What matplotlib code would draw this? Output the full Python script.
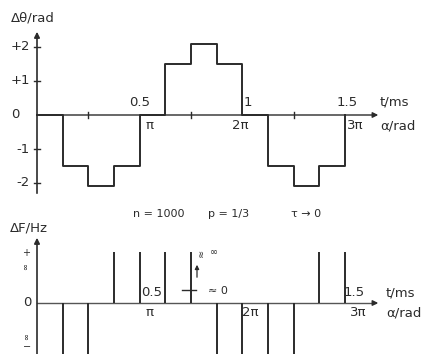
"""Phase deviation and frequency deviation of a stepped phase signal (n=1000, p=1/3, tau->0)."""

import matplotlib.pyplot as plt
import numpy as np

W, H = 432, 354
PX_PER_PI = 102.7        # horizontal pixels per pi rad
X0_PX = 37               # pixel column of the ordinate

# phase steps, x in units of pi
step_edges = [0, 0.25, 0.5, 0.75, 1.0, 1.25, 1.5, 1.75, 2.0, 2.25, 2.5, 2.75, 3.0]
phase_levels = [0, -1.5, -2.1, -1.5, 0, 1.5, 2.1, 1.5, 0, -1.5, -2.1, -1.5, 0]

# frequency impulses (derivative of the phase steps)
impulse_pos = [0.25, 0.5, 0.75, 1.0, 1.25, 1.5, 1.75, 2.0, 2.25, 2.5, 2.75, 3.0]
impulse_sign = [-1, -1, 1, 1, 1, 1, -1, -1, -1, -1, 1, 1]

phase_ticks = [-2, -1, 1, 2]
phase_ticklabels = ["-2", "-1", "+1", "+2"]
x_minor = [0.5, 1.5, 2.5]

INK = "#2b2b2b"
FS = 9.5


def px(x, y):
    return x / W, 1 - y / H


def xdata(xp):
    return (xp - X0_PX) / PX_PER_PI


fig = plt.figure(figsize=(W / 100, H / 100), dpi=100)
fig.patch.set_facecolor("white")

xlim = (xdata(0), xdata(W))

# ---- top panel: delta theta ----
top_h = 200
ax1 = fig.add_axes([0, 1 - top_h / H, 1, top_h / H])
u1, z1 = 34.0, 115
ax1.set_xlim(xlim)
ax1.set_ylim(-(top_h - z1) / u1, z1 / u1)
ax1.axis("off")

ax1.annotate("", xy=(xdata(381), 0), xytext=(0, 0),
             arrowprops=dict(arrowstyle="-|>", color=INK, lw=1.0, mutation_scale=8))
ax1.annotate("", xy=(0, (z1 - 29) / u1), xytext=(0, -(196 - z1) / u1),
             arrowprops=dict(arrowstyle="-|>", color=INK, lw=1.2, mutation_scale=8))
for v in phase_ticks:
    ax1.plot([-0.03, 0.03], [v, v], color=INK, lw=1.0)
for v in x_minor:
    ax1.plot([v, v], [-0.08, 0.08], color=INK, lw=1.0)
ax1.step(step_edges, phase_levels, where="post", color=INK, lw=1.4)

# ---- bottom panel: delta F ----
bot_h = H - top_h
ax2 = fig.add_axes([0, 0, 1, bot_h / H])
u2, z2 = 51.0, 303 - top_h
ax2.set_xlim(xlim)
ax2.set_ylim(-(bot_h - z2) / u2, z2 / u2)
ax2.axis("off")

ax2.plot([0, xdata(375)], [0, 0], color="#555555", lw=1.0)
ax2.annotate("", xy=(xdata(381), 0), xytext=(xdata(370), 0),
             arrowprops=dict(arrowstyle="-|>", color=INK, lw=1.0, mutation_scale=8))
ax2.annotate("", xy=(0, (z2 - 35) / u2), xytext=(0, -1.2),
             arrowprops=dict(arrowstyle="-|>", color=INK, lw=1.2, mutation_scale=8))
ax2.vlines(impulse_pos, 0, impulse_sign, color=INK, lw=1.4)

# annotation on the impulse at 3pi/2
ax2.annotate("", xy=(xdata(197), (303 - 262) / u2), xytext=(xdata(197), (303 - 280) / u2),
             arrowprops=dict(arrowstyle="-|>", color=INK, lw=0.9, mutation_scale=6))
ax2.plot([xdata(182), xdata(196)], [(303 - 290) / u2] * 2, color=INK, lw=1.0)

# ---- text ----
def t(x, y, s, ha="center", size=FS, **kw):
    fig.text(*px(x, y), s, ha=ha, va="center", size=size, color=INK, **kw)


t(11, 18, "Δθ/rad", ha="left")
for v, lab in zip(phase_ticks, phase_ticklabels):
    t(30, z1 - v * u1, lab, ha="right")
t(20, z1, "0", ha="right")
t(140, 102, "0.5")
t(150, 126, "π")
t(248, 102, "1")
t(240, 126, "2π")
t(347, 102, "1.5")
t(355, 126, "3π")
t(380, 102, "t/ms", ha="left")
t(380, 126, "α/rad", ha="left")

t(133, 214, "n = 1000", ha="left", size=8)
t(208, 214, "p = 1/3", ha="left", size=8)
t(291, 214, "τ → 0", ha="left", size=8)

t(10, 228, "ΔF/Hz", ha="left")
t(26, 253, "+", size=7)
t(26, 267, "∞", size=6, rotation=90)
t(27, 303, "0")
t(27, 336, "∞", size=6, rotation=90)
t(27, 347, "−", size=7)

t(152, 293, "0.5")
t(150, 313, "π")
t(250, 313, "2π")
t(354, 293, "1.5")
t(358, 313, "3π")
t(386, 293, "t/ms", ha="left")
t(386, 313, "α/rad", ha="left")

t(201, 253, "≈", size=7, rotation=90)
t(214, 252, "∞", size=7)
t(218, 291, "≈ 0", size=8)

fig.savefig("out.png", dpi=100)
